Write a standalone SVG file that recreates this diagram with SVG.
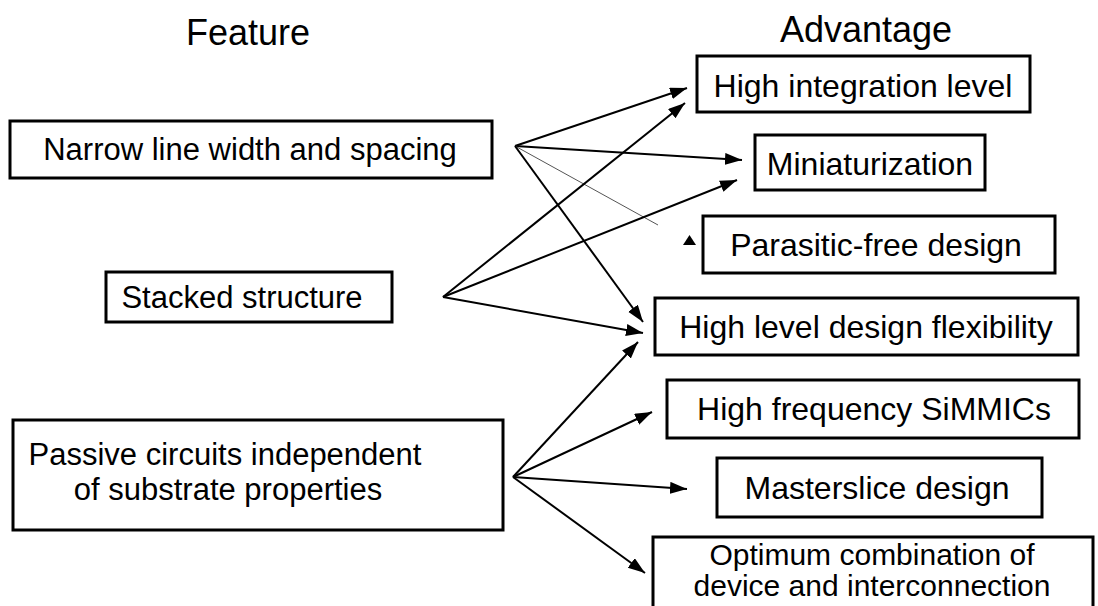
<svg xmlns="http://www.w3.org/2000/svg" width="1098" height="606" viewBox="0 0 1098 606">
<style>
.box{fill:#fff;stroke:#000;stroke-width:3}
.t{font-family:"Liberation Sans",Arial,sans-serif;font-size:31px;fill:#000;text-anchor:middle}
.r{font-family:"Liberation Sans",Arial,sans-serif;font-size:32px;fill:#000;text-anchor:middle}
.o{font-family:"Liberation Sans",Arial,sans-serif;font-size:30px;fill:#000;text-anchor:middle}
.h{font-family:"Liberation Sans",Arial,sans-serif;font-size:36px;fill:#000;text-anchor:middle}
.c{stroke:#000;stroke-width:2;fill:none}
</style>
<defs>
<marker id="ah" markerUnits="userSpaceOnUse" markerWidth="20" markerHeight="14" refX="17" refY="6" orient="auto">
<path d="M0,0 L17,6 L0,12 z" fill="#000"/>
</marker>
</defs>
<rect width="1098" height="606" fill="#fff"/>
<text class="h" x="248" y="45">Feature</text>
<text class="h" x="866" y="42">Advantage</text>
<g id="connectors">
<line class="c" x1="515" y1="146" x2="687" y2="88" marker-end="url(#ah)"/>
<line class="c" x1="515" y1="146" x2="742" y2="160" marker-end="url(#ah)"/>
<line x1="515" y1="146" x2="658" y2="225" stroke="#555" stroke-width="1"/>
<polygon points="683,245 696,245 689.5,235" fill="#000"/>
<line class="c" x1="515" y1="146" x2="643" y2="322" marker-end="url(#ah)"/>
<line class="c" x1="443" y1="297" x2="685" y2="103" marker-end="url(#ah)"/>
<line class="c" x1="443" y1="297" x2="737" y2="180" marker-end="url(#ah)"/>
<line class="c" x1="443" y1="297" x2="643" y2="333" marker-end="url(#ah)"/>
<line class="c" x1="513" y1="477" x2="638" y2="342" marker-end="url(#ah)"/>
<line class="c" x1="513" y1="477" x2="652" y2="412" marker-end="url(#ah)"/>
<line class="c" x1="513" y1="477" x2="687" y2="489" marker-end="url(#ah)"/>
<line class="c" x1="513" y1="477" x2="645" y2="573" marker-end="url(#ah)"/>
</g>
<g id="narrow"><rect class="box" x="10" y="121" width="482" height="57"/><text class="t" x="250" y="160">Narrow line width and spacing</text></g>
<g id="stacked"><rect class="box" x="106" y="272" width="286" height="50"/><text class="t" x="242" y="308">Stacked structure</text></g>
<g id="passive"><rect class="box" x="13" y="420" width="490" height="110"/><text class="t" x="225" y="465">Passive circuits independent</text><text class="t" x="228" y="500">of substrate properties</text></g>
<g id="highint"><rect class="box" x="697" y="56" width="333" height="56"/><text class="r" x="863" y="97">High integration level</text></g>
<g id="mini"><rect class="box" x="755" y="135" width="230" height="55"/><text class="r" x="870" y="175">Miniaturization</text></g>
<g id="parasitic"><rect class="box" x="703" y="216" width="352" height="57"/><text class="r" x="876" y="256">Parasitic-free design</text></g>
<g id="flex"><rect class="box" x="655" y="298" width="423" height="57"/><text class="r" x="866" y="338">High level design flexibility</text></g>
<g id="hfs"><rect class="box" x="667" y="380" width="412" height="58"/><text class="r" x="874" y="420">High frequency SiMMICs</text></g>
<g id="master"><rect class="box" x="717" y="458" width="325" height="59"/><text class="r" x="877" y="499">Masterslice design</text></g>
<g id="optimum"><rect class="box" x="653" y="537" width="440" height="90"/><text class="o" x="872" y="565">Optimum combination of</text><text class="o" x="872" y="596">device and interconnection</text></g>
</svg>
